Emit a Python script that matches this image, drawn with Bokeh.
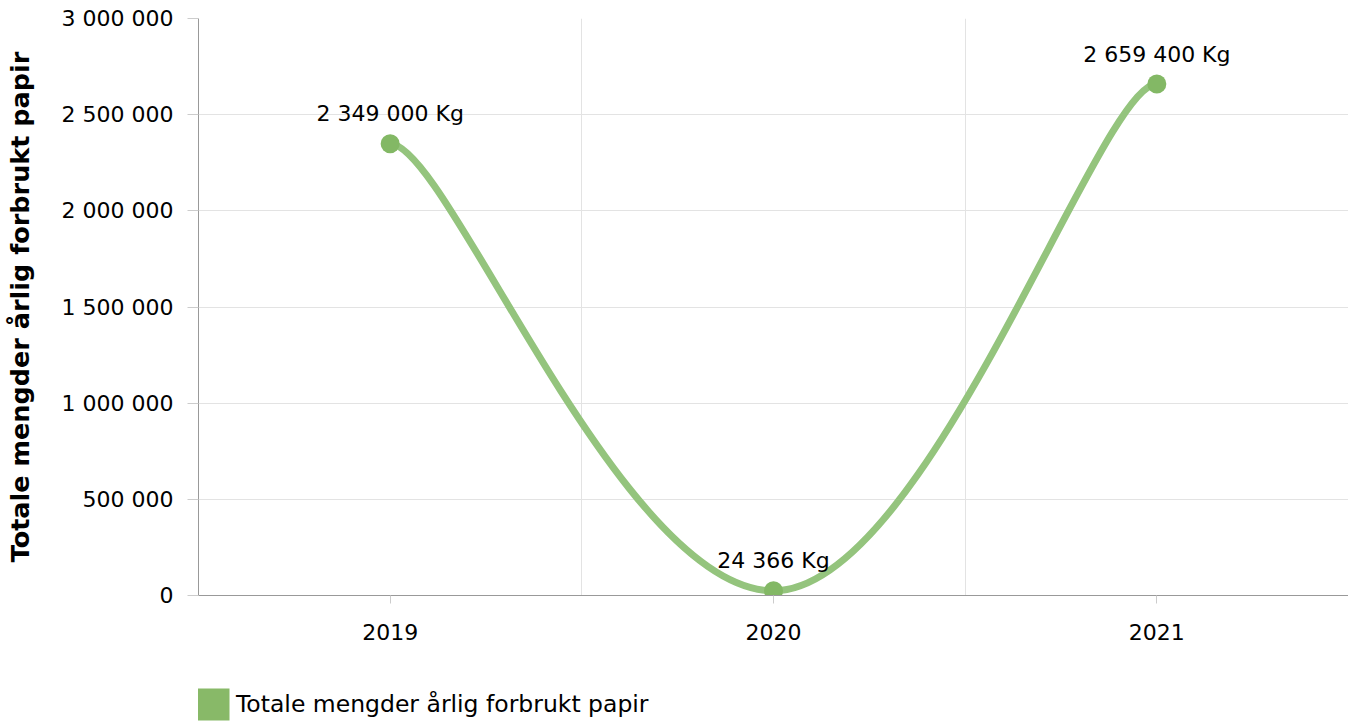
from bokeh.plotting import figure
from bokeh.layouts import column
from bokeh.models import Range1d, FixedTicker, Legend, LegendItem, ColumnDataSource
from bokeh.embed import file_html
from bokeh.resources import INLINE
from bokeh.core.properties import value

# ---- data ----
years = ["2019", "2020", "2021"]
paper_kg = [2349000, 24366, 2659400]
series_name = "Totale mengder årlig forbrukt papir"
y_axis_title = "Totale mengder årlig forbrukt papir"
y_ticks = [0, 500000, 1000000, 1500000, 2000000, 2500000, 3000000]
y_tick_labels = ["0", "500 000", "1 000 000", "1 500 000", "2 000 000", "2 500 000", "3 000 000"]
unit = "Kg"

FONT = "DejaVu Sans"
LINE_COLOR = "#94c47d"
MARKER_COLOR = "#83b865"
LEGEND_COLOR = "#88b968"
SMOOTHING = 1.5       # interior control-point smoothing
END_HANDLE = 0.15     # horizontal handle length at the two end points (fraction of step)


def fmt(v):
    return f"{v:,}".replace(",", " ")


xs = list(range(len(years)))


def spline_segments(px, py):
    n = len(px)
    left = [None] * n
    right = [None] * n
    d = SMOOTHING + 1
    for i in range(1, n - 1):
        lx, ly = px[i - 1], py[i - 1]
        cx, cy = px[i], py[i]
        nx, ny = px[i + 1], py[i + 1]
        lcx = (SMOOTHING * cx + lx) / d
        lcy = (SMOOTHING * cy + ly) / d
        rcx = (SMOOTHING * cx + nx) / d
        rcy = (SMOOTHING * cy + ny) / d
        if rcx != lcx:
            corr = ((rcy - lcy) * (rcx - cx)) / (rcx - lcx) + cy - rcy
            lcy += corr
            rcy += corr
        if lcy > max(ly, cy):
            lcy = max(ly, cy); rcy = 2 * cy - lcy
        elif lcy < min(ly, cy):
            lcy = min(ly, cy); rcy = 2 * cy - lcy
        if rcy > max(cy, ny):
            rcy = max(cy, ny); lcy = 2 * cy - rcy
        elif rcy < min(cy, ny):
            rcy = min(cy, ny); lcy = 2 * cy - rcy
        left[i] = (lcx, lcy)
        right[i] = (rcx, rcy)
    # end points: short horizontal handles
    right[0] = (px[0] + END_HANDLE * (px[1] - px[0]), py[0])
    left[n - 1] = (px[n - 1] - END_HANDLE * (px[n - 1] - px[n - 2]), py[n - 1])
    seg = dict(x0=[], y0=[], x1=[], y1=[], cx0=[], cy0=[], cx1=[], cy1=[])
    for i in range(1, n):
        c0 = right[i - 1]
        c1 = left[i]
        seg["x0"].append(px[i - 1]); seg["y0"].append(py[i - 1])
        seg["x1"].append(px[i]); seg["y1"].append(py[i])
        seg["cx0"].append(c0[0]); seg["cy0"].append(c0[1])
        seg["cx1"].append(c1[0]); seg["cy1"].append(c1[1])
    return seg


p = figure(width=1348, height=670, output_backend="svg", toolbar_location=None,
           x_range=Range1d(-0.5, len(years) - 0.5), y_range=Range1d(0, 3000000),
           min_border_left=198, min_border_right=0, min_border_top=18, min_border_bottom=75)
p.outline_line_color = None
p.background_fill_color = "white"
p.border_fill_color = "white"

# grids
p.xgrid.ticker = FixedTicker(ticks=[-0.5, 0.5, 1.5, 2.5])
p.xgrid.grid_line_color = "#e3e3e3"
p.ygrid.ticker = FixedTicker(ticks=y_ticks)
p.ygrid.grid_line_color = "#e3e3e3"

# axes
xa = p.xaxis[0]
xa.ticker = FixedTicker(ticks=xs)
xa.major_label_overrides = {i: y for i, y in zip(xs, years)}
xa.minor_tick_line_color = None
xa.major_tick_in = 0
xa.major_tick_out = 8
xa.major_tick_line_color = "#cccccc"
xa.axis_line_color = "#999999"
xa.major_label_text_font = FONT
xa.major_label_text_font_size = "22px"
xa.major_label_text_color = "#000000"
xa.major_label_standoff = 20

ya = p.yaxis[0]
ya.ticker = FixedTicker(ticks=y_ticks)
ya.major_label_overrides = {t: l for t, l in zip(y_ticks, y_tick_labels)}
ya.minor_tick_line_color = None
ya.major_tick_in = 0
ya.major_tick_out = 11
ya.major_tick_line_color = "#cccccc"
ya.axis_line_color = "#999999"
ya.major_label_text_font = FONT
ya.major_label_text_font_size = "22px"
ya.major_label_text_color = "#000000"
ya.major_label_standoff = 14
ya.axis_label = y_axis_title
ya.axis_label_text_font = FONT
ya.axis_label_text_font_size = "25.5px"
ya.axis_label_text_font_style = "bold"
ya.axis_label_text_color = "#000000"
ya.axis_label_standoff = 24

# spline line
seg = spline_segments(xs, paper_kg)
p.bezier(x0="x0", y0="y0", x1="x1", y1="y1", cx0="cx0", cy0="cy0", cx1="cx1", cy1="cy1",
         source=ColumnDataSource(seg), line_color=LINE_COLOR, line_width=7, line_cap="round")

src = ColumnDataSource(dict(x=xs, y=paper_kg, label=[f"{fmt(v)} {unit}" for v in paper_kg]))
p.scatter("x", "y", source=src, size=19, fill_color=MARKER_COLOR, line_color=None)
p.text("x", "y", text="label", source=src, text_font=value(FONT), text_font_size="22px",
       text_align="center", text_baseline="alphabetic", y_offset=-30, text_color="#000000")

# legend strip (separate small figure under the chart)
lg = figure(width=1348, height=54, output_backend="svg", toolbar_location=None,
            x_range=Range1d(0, 1), y_range=Range1d(0, 1),
            min_border_left=0, min_border_right=0, min_border_top=0, min_border_bottom=0)
lg.axis.visible = False
lg.grid.visible = False
lg.outline_line_color = None
lg.border_fill_color = "white"
dummy = lg.quad(left=[0], right=[0], top=[0], bottom=[0], fill_color=LEGEND_COLOR, line_color=None)
legend = Legend(items=[LegendItem(label=series_name, renderers=[dummy])], location=(-5, 0),
                glyph_width=40, glyph_height=40, label_standoff=3, padding=0, margin=0,
                border_line_color=None, background_fill_alpha=0,
                label_text_font=FONT, label_text_font_size="23.5px", label_text_color="#000000")
lg.add_layout(legend, "center")

open("out.html", "w").write(file_html(column(p, lg, spacing=0), INLINE))
